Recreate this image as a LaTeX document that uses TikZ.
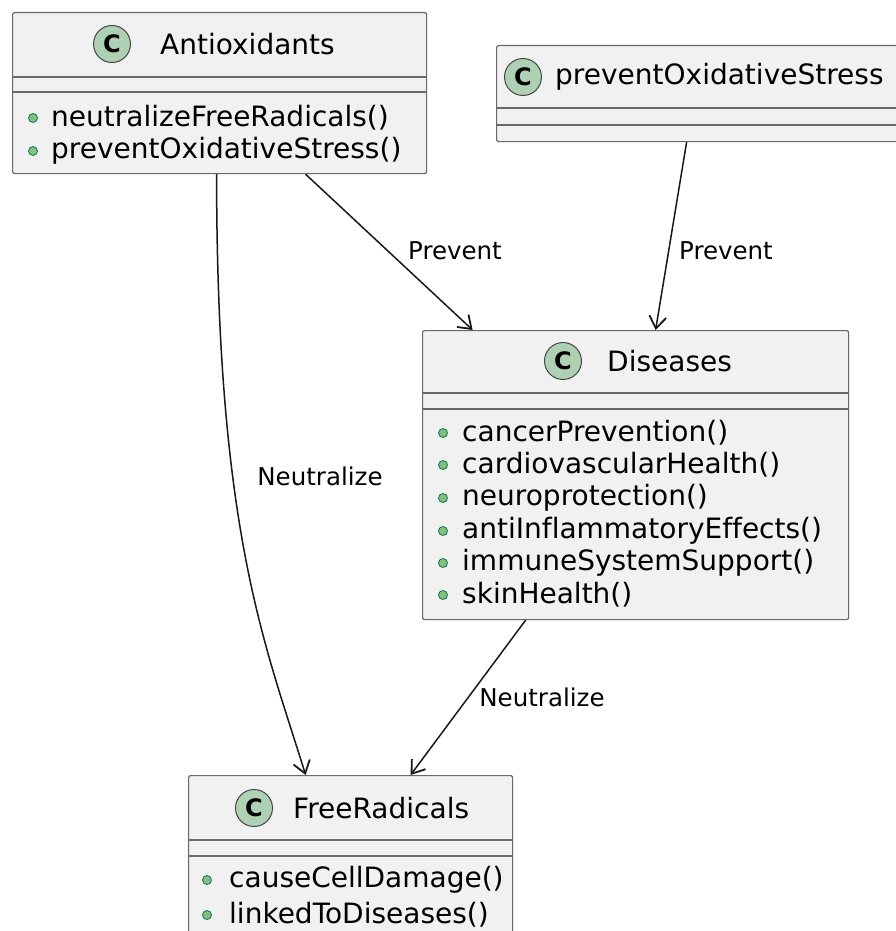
\documentclass[tikz,border=0pt]{standalone}
\usepackage{fontspec}
\setmainfont{DejaVu Sans}[Ligatures=NoCommon]
\usetikzlibrary{arrows.meta,positioning,calc}
\definecolor{boxfill}{HTML}{F1F1F1}
\definecolor{boxline}{HTML}{181818}
\definecolor{spotgreen}{HTML}{ADD1B2}
\definecolor{dotfill}{HTML}{84BE84}
\definecolor{dotline}{HTML}{038048}

\begin{document}
\begin{tikzpicture}[x=1pt,y=-1pt,>={Straight Barb[length=12pt,width=17pt,line width=1.8pt]}]
\tikzset{cls/.style={draw=boxline!65,fill=boxfill,rounded corners=2pt,line width=1.2pt,anchor=north west,inner sep=0}, sep/.style={draw=boxline!65,line width=1.2pt}, spot/.style={circle,draw=boxline!80,fill=spotgreen,minimum size=37pt,inner sep=0,line width=1pt,font=\fontsize{24}{24}\selectfont\bfseries}, cname/.style={anchor=west,inner sep=0,font=\fontsize{28}{32}\selectfont}, mbr/.style={anchor=west,inner sep=0,font=\fontsize{28}{32}\selectfont}, dot/.style={circle,draw=dotline,fill=dotfill,minimum size=9pt,inner sep=0,line width=0.8pt}, lbl/.style={inner sep=0,font=\fontsize{24.5}{28}\selectfont}, arr/.style={->,draw=boxline,line width=1.5pt}}
\useasboundingbox (0,0) rectangle (896,931);
\clip (0,0) rectangle (896,931);
% class boxes
\node[cls,minimum width=414pt,minimum height=161pt] (anti) at (12,12) {};
\draw[sep] ($(anti.north west)+(0,65)$) -- ($(anti.north east)+(0,65)$) ($(anti.north west)+(0,80)$) -- ($(anti.north east)+(0,80)$);
\node[cls,minimum width=414pt,minimum height=96pt] (pos) at (496,45) {};
\draw[sep] ($(pos.north west)+(0,63)$) -- ($(pos.north east)+(0,63)$) ($(pos.north west)+(0,80)$) -- ($(pos.north east)+(0,80)$);
\node[cls,minimum width=426pt,minimum height=289pt] (dis) at (422,330) {};
\draw[sep] ($(dis.north west)+(0,63)$) -- ($(dis.north east)+(0,63)$) ($(dis.north west)+(0,79)$) -- ($(dis.north east)+(0,79)$);
\node[cls,minimum width=324pt,minimum height=180pt] (free) at (188,775) {};
\draw[sep] ($(free.north west)+(0,65)$) -- ($(free.north east)+(0,65)$) ($(free.north west)+(0,81)$) -- ($(free.north east)+(0,81)$);
% headers
\node[spot] (antiC) at (112,44) {C};
\node[cname] (antiN) at (160,44) {Antioxidants};
\node[spot] (posC) at (523,77) {C};
\node[cname] (posN) at (555,77) {preventOxidativeStress};
\node[spot] (disC) at (563,361) {C};
\node[cname] (disN) at (607,361) {Diseases};
\node[spot] (freeC) at (254,808) {C};
\node[cname] (freeN) at (293,808) {FreeRadicals};
% members
\foreach \y/\t [count=\i] in {118/neutralizeFreeRadicals(),151/preventOxidativeStress()}
  {\node[dot] (antiD\i) at (33,\y) {}; \node[mbr] (antiM\i) at (51,\y) {\t};}
\foreach \y/\t [count=\i] in {433/cancerPrevention(),465/cardiovascularHealth(),498/neuroprotection(),531/antiInflammatoryEffects(),563/immuneSystemSupport(),595/skinHealth()}
  {\node[dot] (disD\i) at (443,\y) {}; \node[mbr] (disM\i) at (462,\y) {\t};}
\foreach \y/\t [count=\i] in {880/causeCellDamage(),915/linkedToDiseases()}
  {\node[dot] (freeD\i) at (207,\y) {}; \node[mbr] (freeM\i) at (229,\y) {\t};}
% relations
\draw[arr] ([xshift=86pt]anti.south) -- ([xshift=-163pt]dis.north);
\draw[arr] ([xshift=-17pt]pos.south) -- ([xshift=20pt]dis.north);
\draw[arr] ([xshift=-3pt]anti.south) .. controls +(0,360) and +(-40,-130) .. ([xshift=-45pt]free.north);
\draw[arr] ([xshift=-110pt]dis.south) -- ([xshift=60pt]free.north);
\node[lbl] (l1) at (455,251) {Prevent};
\node[lbl] (l2) at (726,251) {Prevent};
\node[lbl] (l3) at (320,476) {Neutralize};
\node[lbl] (l4) at (542,697) {Neutralize};
\end{tikzpicture}
\end{document}
